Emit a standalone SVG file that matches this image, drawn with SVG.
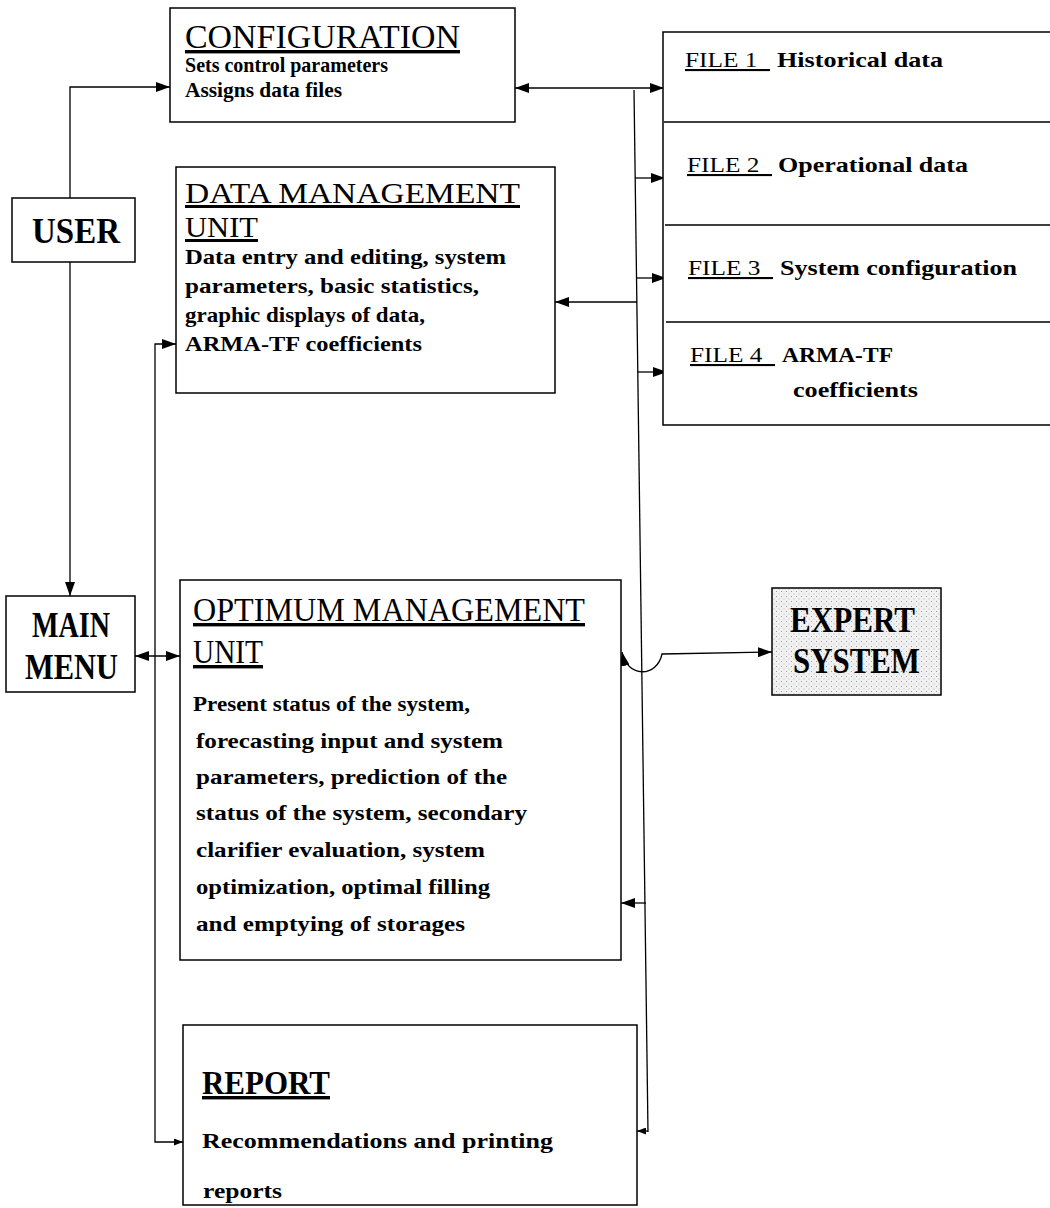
<svg xmlns="http://www.w3.org/2000/svg" width="1050" height="1208" viewBox="0 0 1050 1208">
  <defs>
    <marker id="arr" viewBox="0 0 14 10" refX="14" refY="5" markerWidth="14" markerHeight="10" markerUnits="userSpaceOnUse" orient="auto-start-reverse">
      <path d="M0,0 L14,5 L0,10 z" fill="#000"/>
    </marker>
    <marker id="arrS" viewBox="0 0 9 7" refX="9" refY="3.5" markerWidth="9" markerHeight="7" markerUnits="userSpaceOnUse" orient="auto-start-reverse">
      <path d="M0,0 L9,3.5 L0,7 z" fill="#000"/>
    </marker>
    <pattern id="stipple" width="5" height="5" patternUnits="userSpaceOnUse">
      <rect width="5" height="5" fill="#f1f1f1"/>
      <rect x="1" y="1" width="1" height="1" fill="#9a9a9a"/>
      <rect x="3.5" y="3.5" width="1" height="1" fill="#b5b5b5"/>
    </pattern>
  </defs>
  <style>
    .box { fill: #fff; stroke: #000; stroke-width: 1.5; }
    .ln { fill: none; stroke: #000; stroke-width: 1.3; }
    .t { font-family: "Liberation Serif", "Times New Roman", serif; fill: #000; }
    .title { font-size: 34px; text-decoration: underline; }
    .title-tight { font-size: 30px; text-decoration: underline; }
    .big { font-size: 36px; font-weight: bold; }
    .body { font-size: 21px; font-weight: bold; }
    .file { font-size: 21px; text-decoration: underline; }
  </style>
  <rect width="1050" height="1208" fill="#fff"/>

  <!-- connectors -->
  <g id="connectors">
    <path class="ln" d="M70,200 V87 H170" marker-end="url(#arr)"/>
    <path class="ln" d="M70,262 V596" marker-end="url(#arr)"/>
    <path class="ln" d="M515,88 H664" marker-start="url(#arr)" marker-end="url(#arr)"/>
    <path class="ln" d="M634,90 L648,1132"/>
    <path class="ln" d="M635,178 H665" marker-end="url(#arr)"/>
    <path class="ln" d="M637,278 H666" marker-end="url(#arr)"/>
    <path class="ln" d="M638,372 H667" marker-end="url(#arr)"/>
    <path class="ln" d="M637,302 H555" marker-end="url(#arr)"/>
    <path class="ln" d="M646,903 H621" marker-end="url(#arr)"/>
    <path class="ln" d="M648,1131 H637" marker-end="url(#arrS)"/>
    <path class="ln" d="M622,652 C627,678 657,678 662,654 L772,652" marker-start="url(#arr)" marker-end="url(#arr)"/>
    <path class="ln" d="M135,656 H180" marker-start="url(#arr)" marker-end="url(#arr)"/>
    <path class="ln" d="M176,344 H155 V1142 H183" marker-start="url(#arr)" marker-end="url(#arrS)"/>
  </g>

  <g id="configuration">
    <rect class="box" x="170" y="8" width="345" height="114"/>
    <text class="t title" x="185" y="48" textLength="275" lengthAdjust="spacingAndGlyphs">CONFIGURATION</text>
    <text class="t body" x="185" y="72" textLength="203" lengthAdjust="spacingAndGlyphs">Sets control parameters</text>
    <text class="t body" x="185" y="97" textLength="157" lengthAdjust="spacingAndGlyphs">Assigns data files</text>
  </g>

  <g id="user">
    <rect class="box" x="12" y="198" width="123" height="64"/>
    <text class="t big" x="32" y="243" textLength="88" lengthAdjust="spacingAndGlyphs">USER</text>
  </g>

  <g id="data-management-unit">
    <rect class="box" x="176" y="167" width="379" height="226"/>
    <text class="t title-tight" x="185" y="203" textLength="335" lengthAdjust="spacingAndGlyphs">DATA MANAGEMENT</text>
    <text class="t title-tight" x="185" y="237" textLength="73" lengthAdjust="spacingAndGlyphs">UNIT</text>
    <text class="t body" x="185" y="264" textLength="321" lengthAdjust="spacingAndGlyphs">Data entry and editing, system</text>
    <text class="t body" x="185" y="293" textLength="294" lengthAdjust="spacingAndGlyphs">parameters, basic statistics,</text>
    <text class="t body" x="185" y="322" textLength="240" lengthAdjust="spacingAndGlyphs">graphic displays of data,</text>
    <text class="t body" x="185" y="351" textLength="237" lengthAdjust="spacingAndGlyphs">ARMA-TF coefficients</text>
  </g>

  <g id="files">
    <path class="box" d="M1050,32 H663 V425 H1050" fill="none"/>
    <path class="ln" d="M664,122 H1050 M665,225 H1050 M666,322 H1050"/>
  </g>
  <g id="file1">
    <text class="t file" x="685" y="67" textLength="85" lengthAdjust="spacingAndGlyphs">FILE 1&#160;&#160;</text>
    <text class="t body" x="777" y="67" textLength="166" lengthAdjust="spacingAndGlyphs">Historical data</text>
  </g>
  <g id="file2">
    <text class="t file" x="687" y="172" textLength="85" lengthAdjust="spacingAndGlyphs">FILE 2&#160;&#160;</text>
    <text class="t body" x="778" y="172" textLength="190" lengthAdjust="spacingAndGlyphs">Operational data</text>
  </g>
  <g id="file3">
    <text class="t file" x="688" y="275" textLength="85" lengthAdjust="spacingAndGlyphs">FILE 3&#160;&#160;</text>
    <text class="t body" x="780" y="275" textLength="237" lengthAdjust="spacingAndGlyphs">System configuration</text>
  </g>
  <g id="file4">
    <text class="t file" x="690" y="362" textLength="85" lengthAdjust="spacingAndGlyphs">FILE 4&#160;&#160;</text>
    <text class="t body" x="782" y="362" textLength="111" lengthAdjust="spacingAndGlyphs">ARMA-TF</text>
    <text class="t body" x="793" y="397" textLength="125" lengthAdjust="spacingAndGlyphs">coefficients</text>
  </g>

  <g id="main-menu">
    <rect class="box" x="6" y="596" width="129" height="96"/>
    <text class="t big" x="32" y="637" textLength="78" lengthAdjust="spacingAndGlyphs">MAIN</text>
    <text class="t big" x="25" y="679" textLength="93" lengthAdjust="spacingAndGlyphs">MENU</text>
  </g>

  <g id="optimum-management-unit">
    <rect class="box" x="180" y="580" width="441" height="380"/>
    <text class="t title" x="193" y="621" textLength="392" lengthAdjust="spacingAndGlyphs">OPTIMUM MANAGEMENT</text>
    <text class="t title" x="193" y="663" textLength="70" lengthAdjust="spacingAndGlyphs">UNIT</text>
    <text class="t body" x="193" y="711" textLength="277" lengthAdjust="spacingAndGlyphs">Present status of the system,</text>
    <text class="t body" x="196" y="748" textLength="307" lengthAdjust="spacingAndGlyphs">forecasting input and system</text>
    <text class="t body" x="196" y="784" textLength="311" lengthAdjust="spacingAndGlyphs">parameters, prediction of the</text>
    <text class="t body" x="196" y="820" textLength="331" lengthAdjust="spacingAndGlyphs">status of the system, secondary</text>
    <text class="t body" x="196" y="857" textLength="289" lengthAdjust="spacingAndGlyphs">clarifier evaluation, system</text>
    <text class="t body" x="196" y="894" textLength="294" lengthAdjust="spacingAndGlyphs">optimization, optimal filling</text>
    <text class="t body" x="196" y="931" textLength="269" lengthAdjust="spacingAndGlyphs">and emptying of storages</text>
  </g>

  <g id="expert-system">
    <rect x="772" y="588" width="169" height="107" fill="url(#stipple)" stroke="#000" stroke-width="1.5"/>
    <text class="t big" x="790" y="632" textLength="125" lengthAdjust="spacingAndGlyphs">EXPERT</text>
    <text class="t big" x="793" y="673" textLength="127" lengthAdjust="spacingAndGlyphs">SYSTEM</text>
  </g>

  <g id="report">
    <rect class="box" x="183" y="1025" width="454" height="180"/>
    <text class="t title" x="202" y="1094" style="font-weight:bold" textLength="128" lengthAdjust="spacingAndGlyphs">REPORT</text>
    <text class="t body" x="202" y="1148" textLength="351" lengthAdjust="spacingAndGlyphs">Recommendations and printing</text>
    <text class="t body" x="203" y="1198" textLength="79" lengthAdjust="spacingAndGlyphs">reports</text>
  </g>
</svg>
